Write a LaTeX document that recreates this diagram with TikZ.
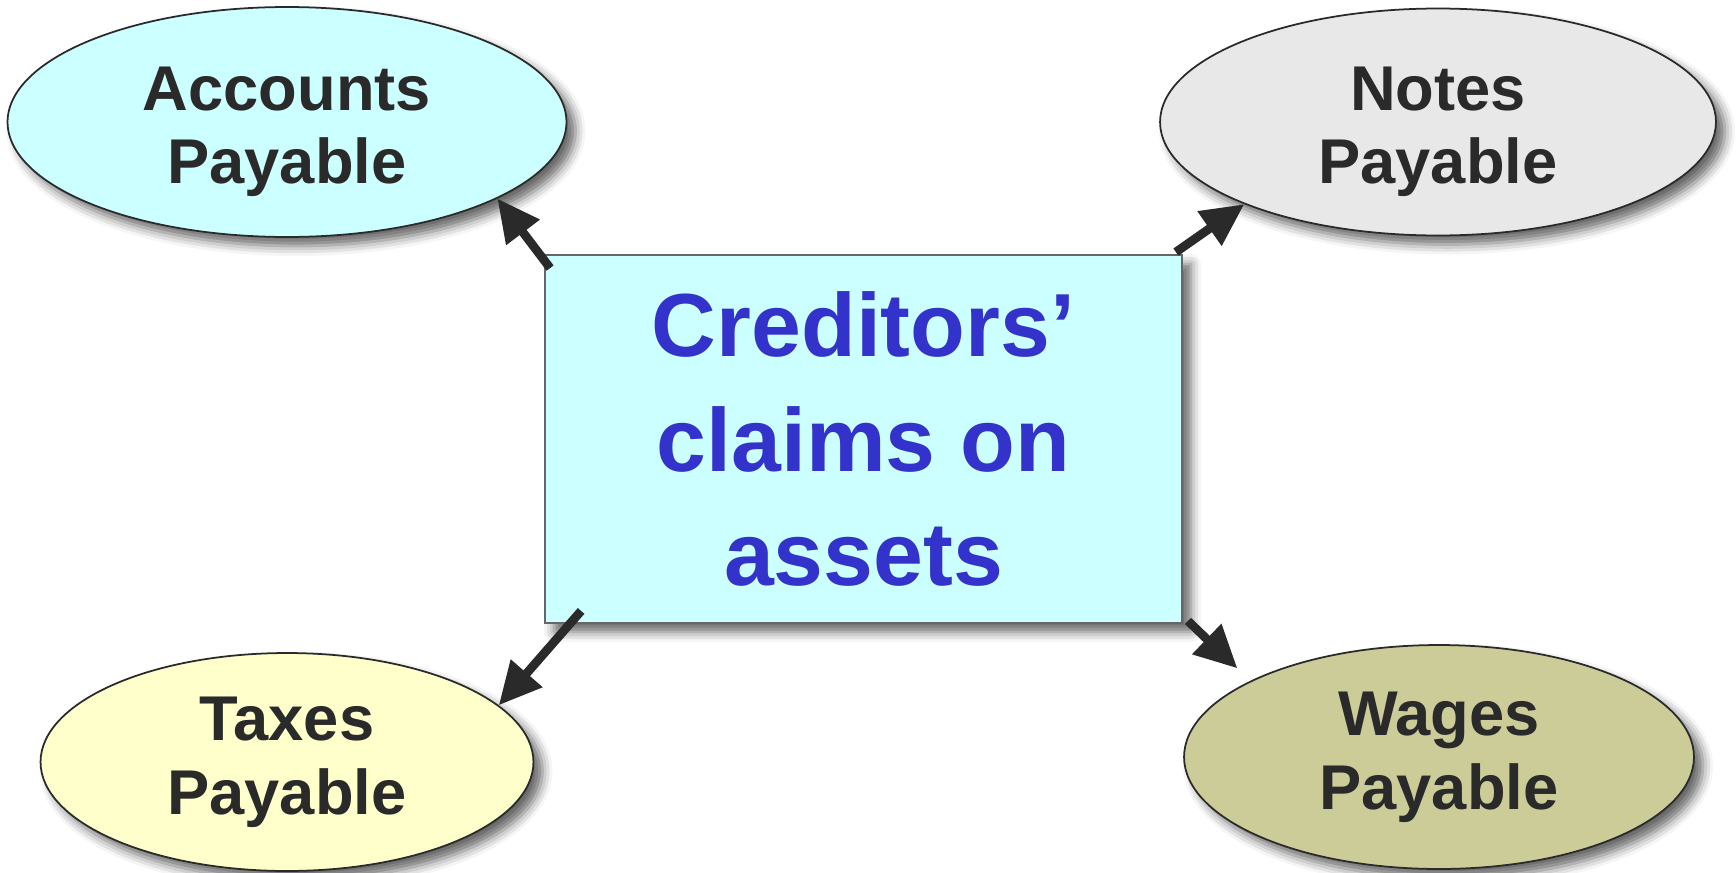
\documentclass[tikz,border=0pt]{standalone}
\usepackage{fontspec}
\setmainfont{Liberation Sans}
\usetikzlibrary{shapes.geometric,arrows.meta,shadows.blur}
\definecolor{apfill}{HTML}{CCFFFF}
\definecolor{npfill}{HTML}{E8E8E8}
\definecolor{tpfill}{HTML}{FFFFCC}
\definecolor{wpfill}{HTML}{CCCC99}
\definecolor{claimblue}{HTML}{3333CC}
\definecolor{inkgray}{HTML}{2A2A2A}
\begin{document}
\begin{tikzpicture}[x=0.02cm,y=-0.02cm,
   oval/.style={ellipse,draw=inkgray,line width=1pt,align=center,
      text=inkgray,font=\fontsize{36}{42}\selectfont\bfseries,inner sep=0pt,
      blur shadow={shadow xshift=0.18cm,shadow yshift=-0.18cm,shadow blur radius=0.2cm,shadow opacity=60}},
   claimbox/.style={rectangle,draw=black!60,line width=1.1pt,fill=apfill,
      minimum width=12.74cm,minimum height=7.36cm,align=center,text=claimblue,
      font=\fontsize{51}{65}\selectfont\bfseries,
      blur shadow={shadow xshift=0.18cm,shadow yshift=-0.18cm,shadow blur radius=0.2cm,shadow opacity=60}},
   arr/.style={-{Triangle[length=0.85cm,width=0.8cm]},line width=5pt,draw=inkgray}]
   \useasboundingbox (0,0) rectangle (1736,872);
   %\draw[very thin,gray,step=100] (0,0) grid (1736,872);
   \node[oval,fill=apfill,minimum width=11.18cm,minimum height=4.6cm] (ap) at (287,122) {\rule{0pt}{36pt}Accounts\\Payable};
   \node[oval,fill=npfill,minimum width=11.12cm,minimum height=4.54cm] (np) at (1438,122) {\rule{0pt}{36pt}Notes\\Payable};
   \node[oval,fill=tpfill,minimum width=9.86cm,minimum height=4.36cm] (tp) at (287,762) {Taxes\\Payable};
   \node[oval,fill=wpfill,minimum width=10.2cm,minimum height=4.48cm] (wp) at (1439,757) {Wages\\Payable};
   % center box
   \node[claimbox] (box) at (863.5,439) {Creditors’\\claims on\\assets};
   \draw[arr] ([shift={(6,14)}]box.north west) -- (ap.-20);
   \draw[arr] ([shift={(-7,-2)}]box.north east) -- (np.-157);
   \draw[arr] ([shift={(37,-13)}]box.south west) -- (tp.15);
   \draw[arr,shorten >=0.36cm] ([shift={(5,-3)}]box.south east) -- (wp.158);
\end{tikzpicture}
\end{document}
